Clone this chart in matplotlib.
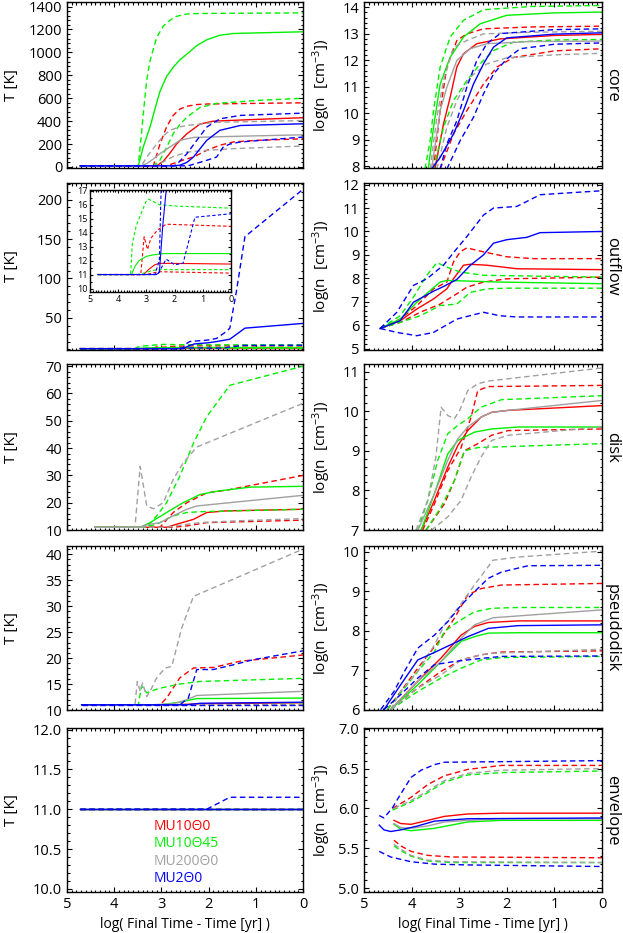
import matplotlib
matplotlib.use('Agg')
import matplotlib.pyplot as plt
from matplotlib.ticker import MultipleLocator, AutoMinorLocator, FormatStrFormatter

plt.rcParams['font.family'] = ['Open Sans', 'DejaVu Sans']
plt.rcParams['mathtext.default'] = 'regular'

# modelos y colores (orden del dibujo = orden de la leyenda)
models = ['MU10Θ0', 'MU10Θ45', 'MU200Θ0', 'MU2Θ0']
order = ['red', 'green', 'gray', 'blue']
colors = {'red': '#ff0000', 'green': '#00f000', 'gray': '#a0a0a0', 'blue': '#0000ff'}
regions = ['core', 'outflow', 'disk', 'pseudodisk', 'envelope']

# cada serie: (log(t_final - t), valor); med = mediana (solida), lo/hi = percentiles (discontinuas)

# ---------------- core ----------------
core_T = {
    'red_hi':    ([4.72, 3.17, 3.03, 2.89, 2.75, 2.61, 2.46, 2.25, 2.0, 0], [10, 10, 200, 350, 450, 505, 530, 545, 550, 560]),
    'red_med':   ([4.72, 3.1, 2.96, 2.82, 2.68, 2.46, 2.18, 1.9, 1.0, 0], [10, 10, 50, 120, 200, 290, 375, 400, 415, 430]),
    'red_lo':    ([4.72, 2.89, 2.75, 2.54, 2.32, 2.04, 1.76, 1.48, 1.0, 0], [10, 10, 30, 60, 87, 145, 190, 218, 232, 246]),
    'green_hi':  ([4.72, 3.49, 3.42, 3.38, 3.31, 3.24, 3.1, 2.96, 2.82, 2.68, 2.46, 2.2, 0], [10, 10, 300, 480, 760, 930, 1130, 1230, 1280, 1315, 1335, 1340, 1345]),
    'green_med': ([4.72, 3.49, 3.38, 3.24, 3.1, 3.03, 2.89, 2.75, 2.61, 2.46, 2.25, 2.04, 1.76, 1.48, 1.0, 0], [10, 10, 180, 350, 560, 660, 790, 870, 935, 985, 1060, 1110, 1150, 1165, 1170, 1180]),
    'green_lo':  ([4.72, 3.17, 3.03, 2.89, 2.75, 2.61, 2.46, 2.18, 1.83, 1.0, 0], [10, 10, 60, 170, 290, 370, 435, 520, 555, 580, 600]),
    'gray_hi':   ([4.72, 3.42, 3.31, 3.1, 2.96, 2.82, 2.61, 2.46, 1.83, 0], [10, 10, 87, 200, 270, 320, 350, 362, 390, 405]),
    'gray_med':  ([4.72, 3.42, 3.31, 3.17, 3.03, 2.82, 2.61, 2.32, 1.48, 0], [10, 10, 30, 70, 116, 174, 232, 258, 267, 281]),
    'gray_lo':   ([4.72, 3.17, 3.03, 2.75, 2.46, 2.04, 1.48, 0], [10, 10, 30, 90, 130, 145, 160, 183]),
    'blue_hi':   ([4.72, 2.75, 2.68, 2.46, 2.25, 2.04, 1.76, 1.33, 0], [10, 10, 20, 116, 232, 348, 420, 450, 470]),
    'blue_med':  ([4.72, 2.75, 2.61, 2.46, 2.32, 2.18, 2.04, 1.76, 1.33, 0], [10, 10, 15, 40, 87, 160, 232, 320, 362, 377]),
    'blue_lo':   ([4.72, 2.46, 2.39, 2.04, 1.83, 1.69, 1.55, 1.33, 0], [10, 10, 15, 58, 87, 174, 200, 218, 261]),
}
core_n = {
    'red_hi':    ([3.54, 3.40, 3.26, 3.05, 2.84, 2.49, 1.5, 0], [7.9, 10.1, 11.74, 12.74, 12.99, 13.18, 13.25, 13.28]),
    'red_med':   ([3.51, 3.33, 3.19, 3.05, 2.91, 2.63, 2.14, 1.0, 0], [7.9, 9.6, 10.6, 11.74, 12.24, 12.62, 12.8, 12.93, 12.97]),
    'red_lo':    ([3.40, 3.12, 2.84, 2.49, 2.21, 1.86, 1.0, 0], [7.9, 9.22, 10.1, 11.1, 11.74, 12.1, 12.35, 12.43]),
    'green_hi':  ([3.72, 3.61, 3.54, 3.40, 3.19, 2.91, 2.49, 1.5, 0], [7.9, 8.97, 10.1, 11.74, 12.87, 13.5, 13.9, 14.02, 14.06]),
    'green_med': ([3.65, 3.54, 3.40, 3.19, 2.91, 2.56, 2.0, 1.0, 0], [7.9, 9.47, 11.1, 12.11, 12.87, 13.37, 13.69, 13.78, 13.81]),
    'green_lo':  ([3.54, 3.33, 3.12, 2.84, 2.56, 2.28, 1.86, 1.0, 0], [7.9, 9.47, 10.48, 11.23, 11.86, 12.36, 12.68, 12.76, 12.78]),
    'gray_hi':   ([3.61, 3.47, 3.33, 3.12, 2.84, 2.49, 1.5, 0], [7.9, 9.85, 11.23, 12.49, 12.74, 12.99, 13.05, 13.09]),
    'gray_med':  ([3.58, 3.40, 3.26, 3.05, 2.77, 2.42, 1.5, 0], [7.9, 10.1, 10.98, 11.99, 12.43, 12.62, 12.7, 12.72]),
    'gray_lo':   ([3.47, 3.26, 3.05, 2.77, 2.42, 2.0, 1.0, 0], [7.9, 9.47, 10.48, 11.36, 11.86, 12.09, 12.2, 12.26]),
    'blue_hi':   ([3.40, 3.26, 3.05, 2.84, 2.63, 2.42, 2.14, 1.0, 0], [7.9, 8.84, 9.72, 10.98, 11.99, 12.62, 13.0, 13.15, 13.18]),
    'blue_med':  ([3.58, 3.40, 3.12, 2.91, 2.70, 2.49, 2.28, 2.0, 1.0, 0], [7.9, 8.34, 9.22, 10.1, 11.1, 11.86, 12.49, 12.84, 12.98, 13.03]),
    'blue_lo':   ([3.26, 2.98, 2.70, 2.49, 2.28, 2.0, 1.72, 1.0, 0], [7.9, 8.97, 9.85, 10.73, 11.48, 12.05, 12.43, 12.6, 12.65]),
}

# ---------------- outflow ----------------
outflow_T = {
    'red_hi':    ([4.72, 3.2, 3.08, 2.96, 2.84, 2.6, 2.3, 1.5, 0], [11, 11, 13.7, 12.8, 13.6, 14.2, 14.6, 14.55, 14.45]),
    'red_med':   ([4.72, 3.1, 2.9, 2.7, 2.54, 2.2, 0], [11, 11, 11.4, 11.7, 11.8, 11.8, 11.75]),
    'red_lo':    ([4.72, 3.0, 2.7, 2.5, 0], [11, 11, 11.15, 11.2, 11.1]),
    'green_hi':  ([4.72, 3.56, 3.5, 3.36, 3.02, 2.93, 2.54, 1.94, 0], [11, 11, 13.2, 14.5, 16.2, 16.4, 16.0, 15.9, 15.75]),
    'green_med': ([4.72, 3.53, 3.4, 3.26, 3.0, 2.78, 2.4, 2.18, 0], [11, 11, 11.6, 12.0, 12.3, 12.4, 12.5, 12.5, 12.5]),
    'green_lo':  ([4.72, 3.3, 3.0, 2.78, 2.5, 0], [11, 11, 11.15, 11.3, 11.35, 11.35]),
    'blue_hi':   ([4.72, 2.7, 2.54, 2.48, 2.4, 2.0, 1.83, 1.62, 1.55, 1.41, 1.23, 0], [11, 11, 12, 17, 20, 22, 24, 33, 37, 84, 153, 213]),
    'blue_med':  ([4.72, 2.66, 2.54, 2.42, 2.3, 2.0, 1.83, 1.55, 1.23, 0], [11, 11, 11.15, 14.5, 17, 18.5, 20, 23, 37, 43]),
    'blue_lo':   ([4.72, 2.6, 2.3, 2.0, 1.7, 1.28, 0], [11, 11, 12.1, 11.7, 11.8, 15.1, 15.35]),
}
outflow_n = {
    'red_hi':    ([4.66, 4.24, 3.89, 3.54, 3.26, 3.12, 2.98, 2.84, 2.49, 2.0, 1.44, 0], [5.86, 6.26, 6.83, 7.55, 7.84, 8.7, 9.13, 9.3, 9.13, 8.92, 8.84, 8.84]),
    'red_med':   ([4.66, 4.24, 3.89, 3.54, 3.26, 3.12, 2.91, 2.77, 2.42, 1.79, 0], [5.86, 6.19, 6.69, 7.12, 7.55, 7.98, 8.56, 8.6, 8.56, 8.41, 8.37]),
    'red_lo':    ([4.66, 4.24, 3.82, 3.40, 3.05, 2.84, 2.49, 2.0, 0], [5.86, 6.12, 6.55, 6.9, 7.34, 7.62, 7.84, 7.98, 8.05]),
    'green_hi':  ([4.66, 4.24, 3.96, 3.68, 3.47, 3.26, 2.98, 2.49, 0], [5.86, 6.4, 7.2, 8.13, 8.67, 8.48, 8.27, 8.13, 8.05]),
    'green_med': ([4.66, 4.24, 3.89, 3.61, 3.40, 3.26, 2.14, 0], [5.86, 6.26, 6.98, 7.48, 7.84, 7.91, 7.84, 7.77]),
    'green_lo':  ([4.66, 4.24, 3.82, 3.40, 3.05, 2.77, 2.42, 2.0, 0], [5.86, 6.12, 6.4, 6.84, 6.9, 7.4, 7.55, 7.58, 7.58]),
    'blue_hi':   ([4.66, 4.31, 3.96, 3.68, 3.33, 3.05, 2.84, 2.49, 2.28, 1.79, 1.58, 1.3, 0], [5.86, 6.55, 7.7, 7.98, 8.56, 9.27, 9.78, 10.7, 11.0, 11.07, 11.28, 11.57, 11.74]),
    'blue_med':  ([4.66, 4.24, 3.96, 3.54, 3.33, 3.05, 2.77, 2.49, 2.28, 2.0, 1.58, 1.3, 0], [5.86, 6.19, 6.98, 7.45, 7.65, 7.95, 8.55, 9.0, 9.5, 9.65, 9.75, 9.95, 10.0]),
    'blue_lo':   ([4.66, 4.31, 3.89, 3.54, 3.05, 2.49, 2.14, 1.79, 0], [5.86, 5.69, 5.55, 5.69, 6.26, 6.55, 6.4, 6.35, 6.35]),
}

# ---------------- disk ----------------
disk_T = {
    'red_hi':    ([4.41, 3.03, 2.75, 2.46, 2.04, 1.62, 0], [11, 11, 16.4, 20, 23.6, 24.6, 30]),
    'red_med':   ([4.41, 2.89, 2.68, 2.32, 2.04, 1.62, 0], [11, 11, 12.1, 13.9, 16.4, 17, 17.6]),
    'red_lo':    ([4.41, 2.75, 2.46, 2.04, 0], [11, 11, 11.5, 12.7, 13.6]),
    'green_hi':  ([4.41, 3.31, 3.10, 2.89, 2.61, 2.32, 2.04, 1.55, 0], [11, 11, 15.2, 20, 29.7, 41.8, 51.5, 63, 70]),
    'green_med': ([4.41, 3.45, 3.24, 2.89, 2.54, 2.18, 1.83, 1.12, 0], [11, 11, 12.7, 16.4, 20, 23, 24.2, 25.7, 26]),
    'green_lo':  ([4.41, 3.38, 3.10, 2.75, 2.46, 2.18, 0], [11, 11, 12.1, 15.2, 16.4, 16.7, 17.6]),
    'gray_hi':   ([4.41, 3.56, 3.45, 3.31, 3.17, 2.96, 2.75, 2.54, 2.25, 0], [11, 11, 33.3, 18.8, 17.8, 20, 28.5, 34.5, 40.4, 56.4]),
    'gray_med':  ([4.41, 3.45, 3.31, 3.03, 2.75, 2.46, 2.25, 0], [11, 11, 11.9, 12.7, 15.2, 17.6, 18.8, 22.7]),
    'gray_lo':   ([4.41, 2.89, 2.54, 2.18, 1.48, 0], [11, 11, 11.9, 12.7, 13.3, 14.2]),
}
disk_n = {
    'red_hi':    ([3.77, 3.52, 3.24, 2.96, 2.75, 2.61, 2.39, 0], [6.99, 7.66, 8.5, 9.08, 9.85, 10.52, 10.62, 10.65]),
    'red_med':   ([3.80, 3.52, 3.24, 3.03, 2.82, 2.54, 2.32, 1.97, 0], [6.99, 7.75, 8.59, 9.13, 9.51, 9.85, 9.97, 10.02, 10.14]),
    'red_lo':    ([3.70, 3.31, 3.10, 2.89, 2.61, 2.32, 1.97, 0], [6.99, 7.66, 8.25, 9.0, 9.18, 9.39, 9.51, 9.55]),
    'green_hi':  ([3.87, 3.66, 3.45, 3.24, 3.03, 2.82, 2.54, 2.11, 0], [6.99, 7.75, 8.76, 9.43, 9.64, 9.81, 10.1, 10.29, 10.39]),
    'green_med': ([3.80, 3.52, 3.24, 3.03, 2.68, 2.32, 1.76, 0], [6.99, 7.92, 8.92, 9.26, 9.47, 9.55, 9.6, 9.6]),
    'green_lo':  ([3.70, 3.38, 3.10, 2.89, 2.61, 2.39, 0], [6.99, 7.58, 8.25, 9.0, 9.08, 9.09, 9.18]),
    'gray_hi':   ([3.91, 3.66, 3.49, 3.38, 3.24, 3.10, 2.99, 2.82, 2.61, 2.39, 0], [6.99, 7.75, 8.84, 10.1, 9.89, 9.81, 10.02, 10.52, 10.69, 10.76, 11.09]),
    'gray_med':  ([3.87, 3.52, 3.24, 3.03, 2.82, 2.54, 2.32, 1.97, 0], [6.99, 7.92, 8.76, 9.3, 9.6, 9.85, 9.97, 10.02, 10.27]),
    'gray_lo':   ([3.59, 3.24, 2.96, 2.75, 2.54, 2.32, 1.97, 0], [6.99, 7.33, 7.75, 8.34, 8.84, 9.26, 9.39, 9.6]),
}

# ---------------- pseudodisk ----------------
pseudo_T = {
    'red_hi':    ([4.69, 3.03, 2.89, 2.61, 2.32, 1.90, 1.33, 0], [11, 11, 12.3, 16.2, 18.1, 18.2, 19.4, 20.6]),
    'red_med':   ([4.69, 2.75, 2.18, 0], [11, 11, 11.2, 11.4]),
    'red_lo':    ([4.69, 0], [11, 10.95]),
    'green_hi':  ([4.69, 3.49, 3.42, 3.31, 3.24, 3.03, 2.61, 2.18, 0], [11, 11, 14.6, 13.3, 13.6, 14.2, 15.0, 15.5, 16.1]),
    'green_med': ([4.69, 3.03, 2.61, 2.25, 0], [11, 11, 11.5, 12.2, 12.3]),
    'green_lo':  ([4.69, 2.6, 0], [11, 11, 11.1]),
    'gray_hi':   ([4.69, 3.56, 3.51, 3.45, 3.40, 3.31, 3.24, 3.10, 2.92, 2.78, 2.57, 2.32, 0], [11, 11, 15.5, 13.6, 15.2, 12.6, 13.6, 16.2, 18.1, 18.4, 25.8, 31.9, 41.0]),
    'gray_med':  ([4.69, 3.24, 2.75, 2.46, 2.25, 0], [11, 11, 11.2, 12.0, 12.8, 13.6]),
    'gray_lo':   ([4.69, 0], [11, 11.05]),
    'blue_hi':   ([4.69, 2.61, 2.43, 2.25, 1.90, 1.48, 1.05, 0], [11, 11, 12.3, 17.8, 17.8, 18.7, 19.7, 21.4]),
    'blue_med':  ([4.69, 2.46, 2.18, 0], [11, 11, 11.3, 11.5]),
    'blue_lo':   ([4.69, 0], [11, 11.0]),
}
pseudo_n = {
    'red_hi':    ([4.51, 3.87, 3.38, 3.10, 2.82, 2.54, 2.11, 0], [6.0, 7.05, 7.81, 8.32, 8.91, 9.07, 9.16, 9.2]),
    'red_med':   ([4.44, 3.87, 3.38, 2.96, 2.68, 2.39, 1.76, 0], [6.0, 6.72, 7.31, 7.89, 8.11, 8.21, 8.25, 8.25]),
    'red_lo':    ([4.44, 3.87, 3.38, 2.96, 2.54, 2.11, 0], [6.0, 6.55, 6.97, 7.26, 7.39, 7.46, 7.49]),
    'green_hi':  ([4.51, 3.87, 3.52, 3.31, 3.03, 2.68, 2.32, 1.76, 0], [6.0, 6.97, 7.47, 7.98, 8.23, 8.48, 8.57, 8.59, 8.59]),
    'green_med': ([4.44, 3.87, 3.38, 2.96, 2.68, 2.39, 1.76, 0], [6.0, 6.63, 7.22, 7.73, 7.85, 7.94, 7.95, 7.95]),
    'green_lo':  ([4.44, 3.87, 3.38, 2.96, 2.54, 2.11, 0], [6.0, 6.46, 6.8, 7.05, 7.26, 7.32, 7.35]),
    'gray_hi':   ([4.44, 4.23, 3.87, 3.52, 3.31, 3.03, 2.68, 2.29, 1.76, 0], [6.0, 6.46, 6.97, 7.64, 8.15, 8.57, 9.16, 9.79, 9.87, 10.02]),
    'gray_med':  ([4.44, 3.87, 3.38, 2.96, 2.68, 2.29, 0], [6.0, 6.72, 7.22, 7.81, 8.15, 8.33, 8.53]),
    'gray_lo':   ([4.44, 3.87, 3.38, 2.96, 2.54, 2.29, 0], [6.0, 6.55, 6.88, 7.26, 7.39, 7.43, 7.53]),
    'blue_hi':   ([4.65, 4.37, 4.15, 3.87, 3.52, 3.24, 2.96, 2.68, 2.39, 2.11, 1.55, 0], [6.0, 6.46, 6.97, 7.56, 7.89, 8.23, 8.65, 8.99, 9.33, 9.49, 9.65, 9.66]),
    'blue_med':  ([4.58, 4.23, 3.87, 3.52, 3.17, 2.82, 2.39, 1.76, 0], [6.0, 6.63, 7.26, 7.45, 7.65, 7.85, 8.06, 8.13, 8.15]),
    'blue_lo':   ([4.58, 4.23, 3.87, 3.52, 3.10, 2.68, 2.11, 0], [6.0, 6.38, 6.8, 7.14, 7.22, 7.28, 7.35, 7.36]),
}

# ---------------- envelope ----------------
env_T = {
    'red_hi': ([4.72, 0], [11, 11]), 'red_med': ([4.72, 0], [11, 11]), 'red_lo': ([4.72, 0], [11, 11]),
    'green_hi': ([4.72, 0], [11, 11]), 'green_med': ([4.72, 0], [11, 11]), 'green_lo': ([4.72, 0], [11, 11]),
    'gray_hi': ([4.72, 0], [11, 11]), 'gray_med': ([4.72, 0], [11, 11]), 'gray_lo': ([4.72, 0], [11, 11]),
    'blue_hi': ([4.72, 2.04, 1.55, 0], [11, 11, 11.15, 11.15]),
    'blue_med': ([4.72, 0], [11, 11]), 'blue_lo': ([4.72, 0], [11, 11]),
}
env_n = {
    'red_hi':    ([4.40, 4.01, 3.66, 3.31, 2.82, 2.11, 0], [6.0, 6.14, 6.3, 6.41, 6.49, 6.54, 6.54]),
    'red_med':   ([4.37, 4.23, 4.01, 3.66, 3.31, 2.82, 2.11, 0], [5.85, 5.81, 5.8, 5.85, 5.9, 5.93, 5.94, 5.94]),
    'red_lo':    ([4.37, 4.23, 4.01, 3.66, 3.17, 0], [5.6, 5.53, 5.46, 5.41, 5.39, 5.38]),
    'green_hi':  ([4.40, 4.01, 3.66, 3.31, 2.82, 2.11, 0], [5.98, 6.08, 6.2, 6.33, 6.42, 6.45, 6.47]),
    'green_med': ([4.37, 4.23, 4.01, 3.52, 3.17, 2.82, 2.11, 0], [5.8, 5.74, 5.72, 5.75, 5.79, 5.83, 5.85, 5.85]),
    'green_lo':  ([4.37, 4.23, 4.01, 3.66, 3.17, 0], [5.53, 5.47, 5.4, 5.34, 5.32, 5.32]),
    'gray_hi':   ([4.37, 4.01, 3.66, 3.31, 2.82, 2.11, 0], [6.0, 6.1, 6.22, 6.35, 6.44, 6.48, 6.5]),
    'gray_med':  ([4.37, 4.23, 4.01, 3.66, 3.31, 2.82, 2.11, 0], [5.81, 5.76, 5.75, 5.78, 5.83, 5.85, 5.87, 5.87]),
    'gray_lo':   ([4.37, 4.23, 4.01, 3.66, 3.17, 0], [5.55, 5.49, 5.41, 5.35, 5.33, 5.32]),
    'blue_hi':   ([4.68, 4.58, 4.40, 4.23, 4.01, 3.80, 3.52, 3.31, 0], [5.91, 5.88, 6.01, 6.18, 6.39, 6.48, 6.55, 6.58, 6.6]),
    'blue_med':  ([4.68, 4.58, 4.44, 4.23, 3.87, 3.52, 2.82, 0], [5.79, 5.73, 5.71, 5.73, 5.78, 5.84, 5.87, 5.88]),
    'blue_lo':   ([4.68, 4.44, 4.01, 3.52, 2.82, 0], [5.46, 5.39, 5.33, 5.3, 5.29, 5.27]),
}

T_sets = [core_T, outflow_T, disk_T, pseudo_T, env_T]
n_sets = [core_n, outflow_n, disk_n, pseudo_n, env_n]

# limites y ticks por fila (T a la izquierda, log n a la derecha)
T_lims = [(-9, 1440), (9.3, 221), (10, 70.8), (10, 41.6), (9.96, 12.02)]
T_steps = [200, 50, 10, 5, 0.5]
n_lims = [(7.94, 14.19), (4.94, 12.07), (7.0, 11.19), (5.99, 10.15), (4.95, 7.01)]
n_steps = [1, 1, 1, 1, 0.5]


def draw(ax, data, lw=1.0, dash=(4, 2.5)):
    for c in order:
        for k in ('lo', 'med', 'hi'):
            key = c + '_' + k
            if key not in data:
                continue
            x, y = data[key]
            if k == 'med':
                ax.plot(x, y, color=colors[c], lw=lw)
            else:
                ax.plot(x, y, color=colors[c], lw=lw, ls=(0, dash))


def style(ax, ylim, step, fs=10.5):
    ax.set_xlim(5, 0)
    ax.set_ylim(*ylim)
    ax.xaxis.set_major_locator(MultipleLocator(1))
    ax.xaxis.set_minor_locator(AutoMinorLocator(10))
    ax.yaxis.set_major_locator(MultipleLocator(step))
    ax.yaxis.set_minor_locator(AutoMinorLocator(5))
    if step < 1:
        ax.yaxis.set_major_formatter(FormatStrFormatter('%.1f'))
    else:
        ax.yaxis.set_major_formatter(FormatStrFormatter('%d'))
    ax.tick_params(which='both', direction='in', top=True, right=True, labelsize=fs, width=0.8)
    ax.tick_params(which='major', length=3.5, pad=3.5)
    ax.tick_params(which='minor', length=1.8)
    for s in ax.spines.values():
        s.set_linewidth(1.0)


fig = plt.figure(figsize=(6.23, 9.33))
W, H = 623.0, 933.0
rows_px = [(2, 168), (183, 350), (364, 530), (546, 710), (728, 892)]

for i, (top, bot) in enumerate(rows_px):
    b = 1 - bot / H
    h = (bot - top) / H
    axL = fig.add_axes([67 / W, b, 236 / W, h])
    axR = fig.add_axes([364 / W, b, 238 / W, h])

    draw(axL, T_sets[i])
    draw(axR, n_sets[i])
    style(axL, T_lims[i], T_steps[i])
    style(axR, n_lims[i], n_steps[i])

    axL.set_ylabel('T [K]', fontsize=11)
    axL.yaxis.set_label_coords(-0.205, 0.5)
    axR.set_ylabel(r'log(n  [cm$^{-3}$])', fontsize=11)
    axR.yaxis.set_label_coords(-0.13, 0.5)
    axR.text(1.042, 0.5, regions[i], transform=axR.transAxes, rotation=-90,
             ha='center', va='center', fontsize=12)

    if i < 4:
        axL.tick_params(labelbottom=False)
        axR.tick_params(labelbottom=False)
    else:
        axL.set_xlabel('log( Final Time - Time [yr] )', fontsize=10)
        axR.set_xlabel('log( Final Time - Time [yr] )', fontsize=10)
        # leyenda como texto coloreado
        for j, (m, c) in enumerate(zip(models, order)):
            axL.text(0.369, 0.398 - j * 0.105, m, color=colors[c], fontsize=10,
                     transform=axL.transAxes, va='center', ha='left')

    if i == 1:
        # recuadro ampliado de la temperatura del outflow
        axI = fig.add_axes([90 / W, 1 - 292 / H, 141 / W, 102 / H])
        draw(axI, outflow_T, lw=0.8, dash=(3, 2))
        style(axI, (9.75, 17.05), 1, fs=6.5)
        axI.tick_params(which='major', length=2.5, pad=2)
        axI.tick_params(which='minor', length=1.2)
        axI.yaxis.set_minor_locator(AutoMinorLocator(2))

fig.savefig('out.png', dpi=100)
